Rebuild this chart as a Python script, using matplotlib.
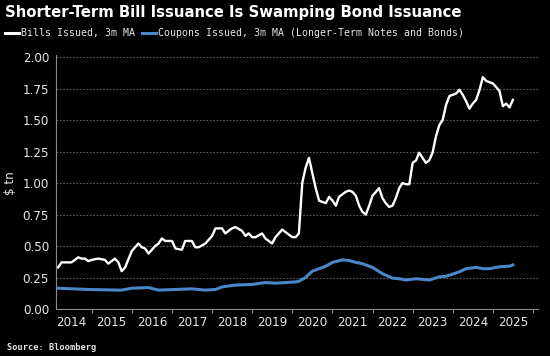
import matplotlib
matplotlib.use("Agg")
import matplotlib.pyplot as plt
import pandas as pd

# Bills issued, 3m moving average ($ tn)
bill_dates = [
    "2014-03", "2014-04", "2014-06", "2014-07", "2014-09", "2014-10", "2014-11", "2014-12",
    "2015-01", "2015-03", "2015-05", "2015-06", "2015-08", "2015-09", "2015-10", "2015-11",
    "2016-01", "2016-03", "2016-04", "2016-05", "2016-06", "2016-08", "2016-09", "2016-10",
    "2016-11", "2017-01", "2017-02", "2017-04", "2017-05", "2017-07", "2017-08", "2017-09",
    "2017-11", "2018-01", "2018-02", "2018-04", "2018-05", "2018-07", "2018-08", "2018-10",
    "2018-11", "2018-12", "2019-01", "2019-02", "2019-04", "2019-05", "2019-07", "2019-08",
    "2019-10", "2019-11", "2020-01", "2020-02", "2020-03", "2020-04", "2020-05", "2020-06",
    "2020-07", "2020-08", "2020-09", "2020-10", "2020-11", "2020-12", "2021-01", "2021-02",
    "2021-03", "2021-04", "2021-05", "2021-06", "2021-07", "2021-08", "2021-09", "2021-10",
    "2021-11", "2021-12", "2022-01", "2022-02", "2022-03", "2022-04", "2022-05", "2022-06",
    "2022-07", "2022-08", "2022-09", "2022-10", "2022-11", "2022-12", "2023-01", "2023-02",
    "2023-03", "2023-04", "2023-05", "2023-06", "2023-07", "2023-08", "2023-09", "2023-10",
    "2023-11", "2023-12", "2024-01", "2024-02", "2024-03", "2024-04", "2024-05", "2024-06",
    "2024-07", "2024-08", "2024-09", "2024-10", "2024-11", "2024-12", "2025-01", "2025-02",
    "2025-03", "2025-04", "2025-05", "2025-06", "2025-07",
]
bill_values = [
    0.33, 0.37, 0.37, 0.37, 0.41, 0.40, 0.40, 0.38,
    0.39, 0.40, 0.39, 0.36, 0.40, 0.37, 0.30, 0.33,
    0.46, 0.52, 0.49, 0.48, 0.44, 0.50, 0.52, 0.56,
    0.54, 0.54, 0.48, 0.47, 0.54, 0.54, 0.49, 0.49,
    0.52, 0.58, 0.64, 0.64, 0.60, 0.64, 0.65, 0.62,
    0.58, 0.60, 0.57, 0.57, 0.60, 0.56, 0.52, 0.57,
    0.63, 0.61, 0.57, 0.57, 0.60, 1.00, 1.12, 1.20,
    1.08, 0.96, 0.86, 0.85, 0.84, 0.89, 0.86, 0.82,
    0.89, 0.91, 0.93, 0.94, 0.93, 0.90, 0.82, 0.77,
    0.75, 0.82, 0.90, 0.93, 0.96, 0.88, 0.84, 0.81,
    0.82, 0.88, 0.96, 1.00, 0.99, 0.99, 1.16, 1.18,
    1.24, 1.20, 1.16, 1.18, 1.24, 1.37, 1.46, 1.50,
    1.62, 1.69, 1.70, 1.71, 1.74, 1.70, 1.65, 1.59,
    1.63, 1.66, 1.74, 1.84, 1.81, 1.80, 1.79, 1.76,
    1.73, 1.61, 1.63, 1.60, 1.66,
]

# Coupons issued, 3m moving average ($ tn)
coupon_dates = [
    "2014-03", "2014-12", "2015-09", "2015-10", "2016-01", "2016-06", "2016-09", "2017-02",
    "2017-07", "2017-11", "2018-02", "2018-04", "2018-08", "2019-01", "2019-05", "2019-08",
    "2020-02", "2020-03", "2020-05", "2020-07", "2020-09", "2020-11", "2021-01", "2021-04",
    "2021-06", "2021-08", "2021-10", "2022-01", "2022-04", "2022-07", "2022-09", "2022-11",
    "2023-02", "2023-06", "2023-09", "2023-11", "2024-03", "2024-05", "2024-08", "2024-10",
    "2024-12", "2025-03", "2025-06", "2025-07",
]
coupon_values = [
    0.165, 0.155, 0.150, 0.150, 0.165, 0.170, 0.150, 0.155,
    0.160, 0.150, 0.155, 0.175, 0.190, 0.195, 0.210, 0.205,
    0.215, 0.220, 0.250, 0.300, 0.320, 0.340, 0.370, 0.390,
    0.385, 0.370, 0.360, 0.330, 0.280, 0.245, 0.240, 0.230,
    0.240, 0.230, 0.255, 0.260, 0.295, 0.320, 0.330, 0.320,
    0.320, 0.335, 0.340, 0.350,
]

y_ticks = [0.0, 0.25, 0.5, 0.75, 1.0, 1.25, 1.5, 1.75, 2.0]
years = list(range(2014, 2026))

BG = "black"
TEXT = "#e6e6e6"
BLUE = "#4a86c8"

bills = pd.Series(bill_values, index=pd.to_datetime(bill_dates))
coupons = pd.Series(coupon_values, index=pd.to_datetime(coupon_dates))

fig = plt.figure(figsize=(5.5, 3.56), dpi=100, facecolor=BG)
ax = fig.add_axes([56 / 550, 47 / 356, 482 / 550, 254 / 356], facecolor=BG)

ax.plot(bills.index, bills.values, color="white", lw=1.7, solid_joinstyle="round")
ax.plot(coupons.index, coupons.values, color=BLUE, lw=2.2, solid_joinstyle="round")

ax.set_xlim(pd.Timestamp("2014-02-10"), pd.Timestamp("2026-02-15"))
ax.set_ylim(0, 2.016)
ax.set_yticks(y_ticks)
ax.set_yticklabels([f"{v:.2f}" for v in y_ticks])
ax.grid(axis="y", color="#5e5e5e", lw=0.8, ls=(0, (1.5, 1.5)))
ax.set_axisbelow(True)

# year boundaries as ticks, labels centred mid-year
ax.set_xticks([pd.Timestamp(f"{y + 1}-01-01") for y in years])
ax.xaxis.set_major_formatter(plt.NullFormatter())
ax.set_xticks([pd.Timestamp(f"{y}-07-02") for y in years], minor=True)
ax.set_xticklabels([str(y) for y in years], minor=True)
ax.tick_params(axis="x", which="major", length=3, color="#8a8a8a", direction="out")
ax.tick_params(axis="x", which="minor", length=0, pad=5, labelsize=8.6, labelcolor=TEXT)
ax.tick_params(axis="y", length=0, pad=5, labelsize=8.6, labelcolor=TEXT)

for side in ("top", "right"):
    ax.spines[side].set_visible(False)
for side in ("left", "bottom"):
    ax.spines[side].set_color("#8a8a8a")
    ax.spines[side].set_linewidth(0.8)

fig.text(10 / 550, 1 - 183 / 356, "$ tn", rotation=90, color=TEXT, fontsize=8.6,
         ha="center", va="center")

fig.text(5 / 550, 1 - 13 / 356, "Shorter-Term Bill Issuance Is Swamping Bond Issuance",
         color="white", fontsize=10.7, fontweight="bold", ha="left", va="center")

# legend row
fig.add_artist(plt.Line2D([5 / 550, 19 / 550], [1 - 33 / 356] * 2, color="white", lw=2.2))
fig.text(21 / 550, 1 - 33 / 356, "Bills Issued, 3m MA", color=TEXT, fontsize=7.1,
         family="DejaVu Sans Mono", ha="left", va="center")
fig.add_artist(plt.Line2D([142 / 550, 156 / 550], [1 - 33 / 356] * 2, color=BLUE, lw=2.2))
fig.text(158 / 550, 1 - 33 / 356, "Coupons Issued, 3m MA (Longer-Term Notes and Bonds)",
         color=TEXT, fontsize=7.1, family="DejaVu Sans Mono", ha="left", va="center")

fig.text(7 / 550, 1 - 347 / 356, "Source: Bloomberg", color=TEXT, fontsize=6.2,
         family="DejaVu Sans Mono", fontweight="bold", ha="left", va="center")

fig.savefig("out.png", dpi=100, facecolor=BG)
